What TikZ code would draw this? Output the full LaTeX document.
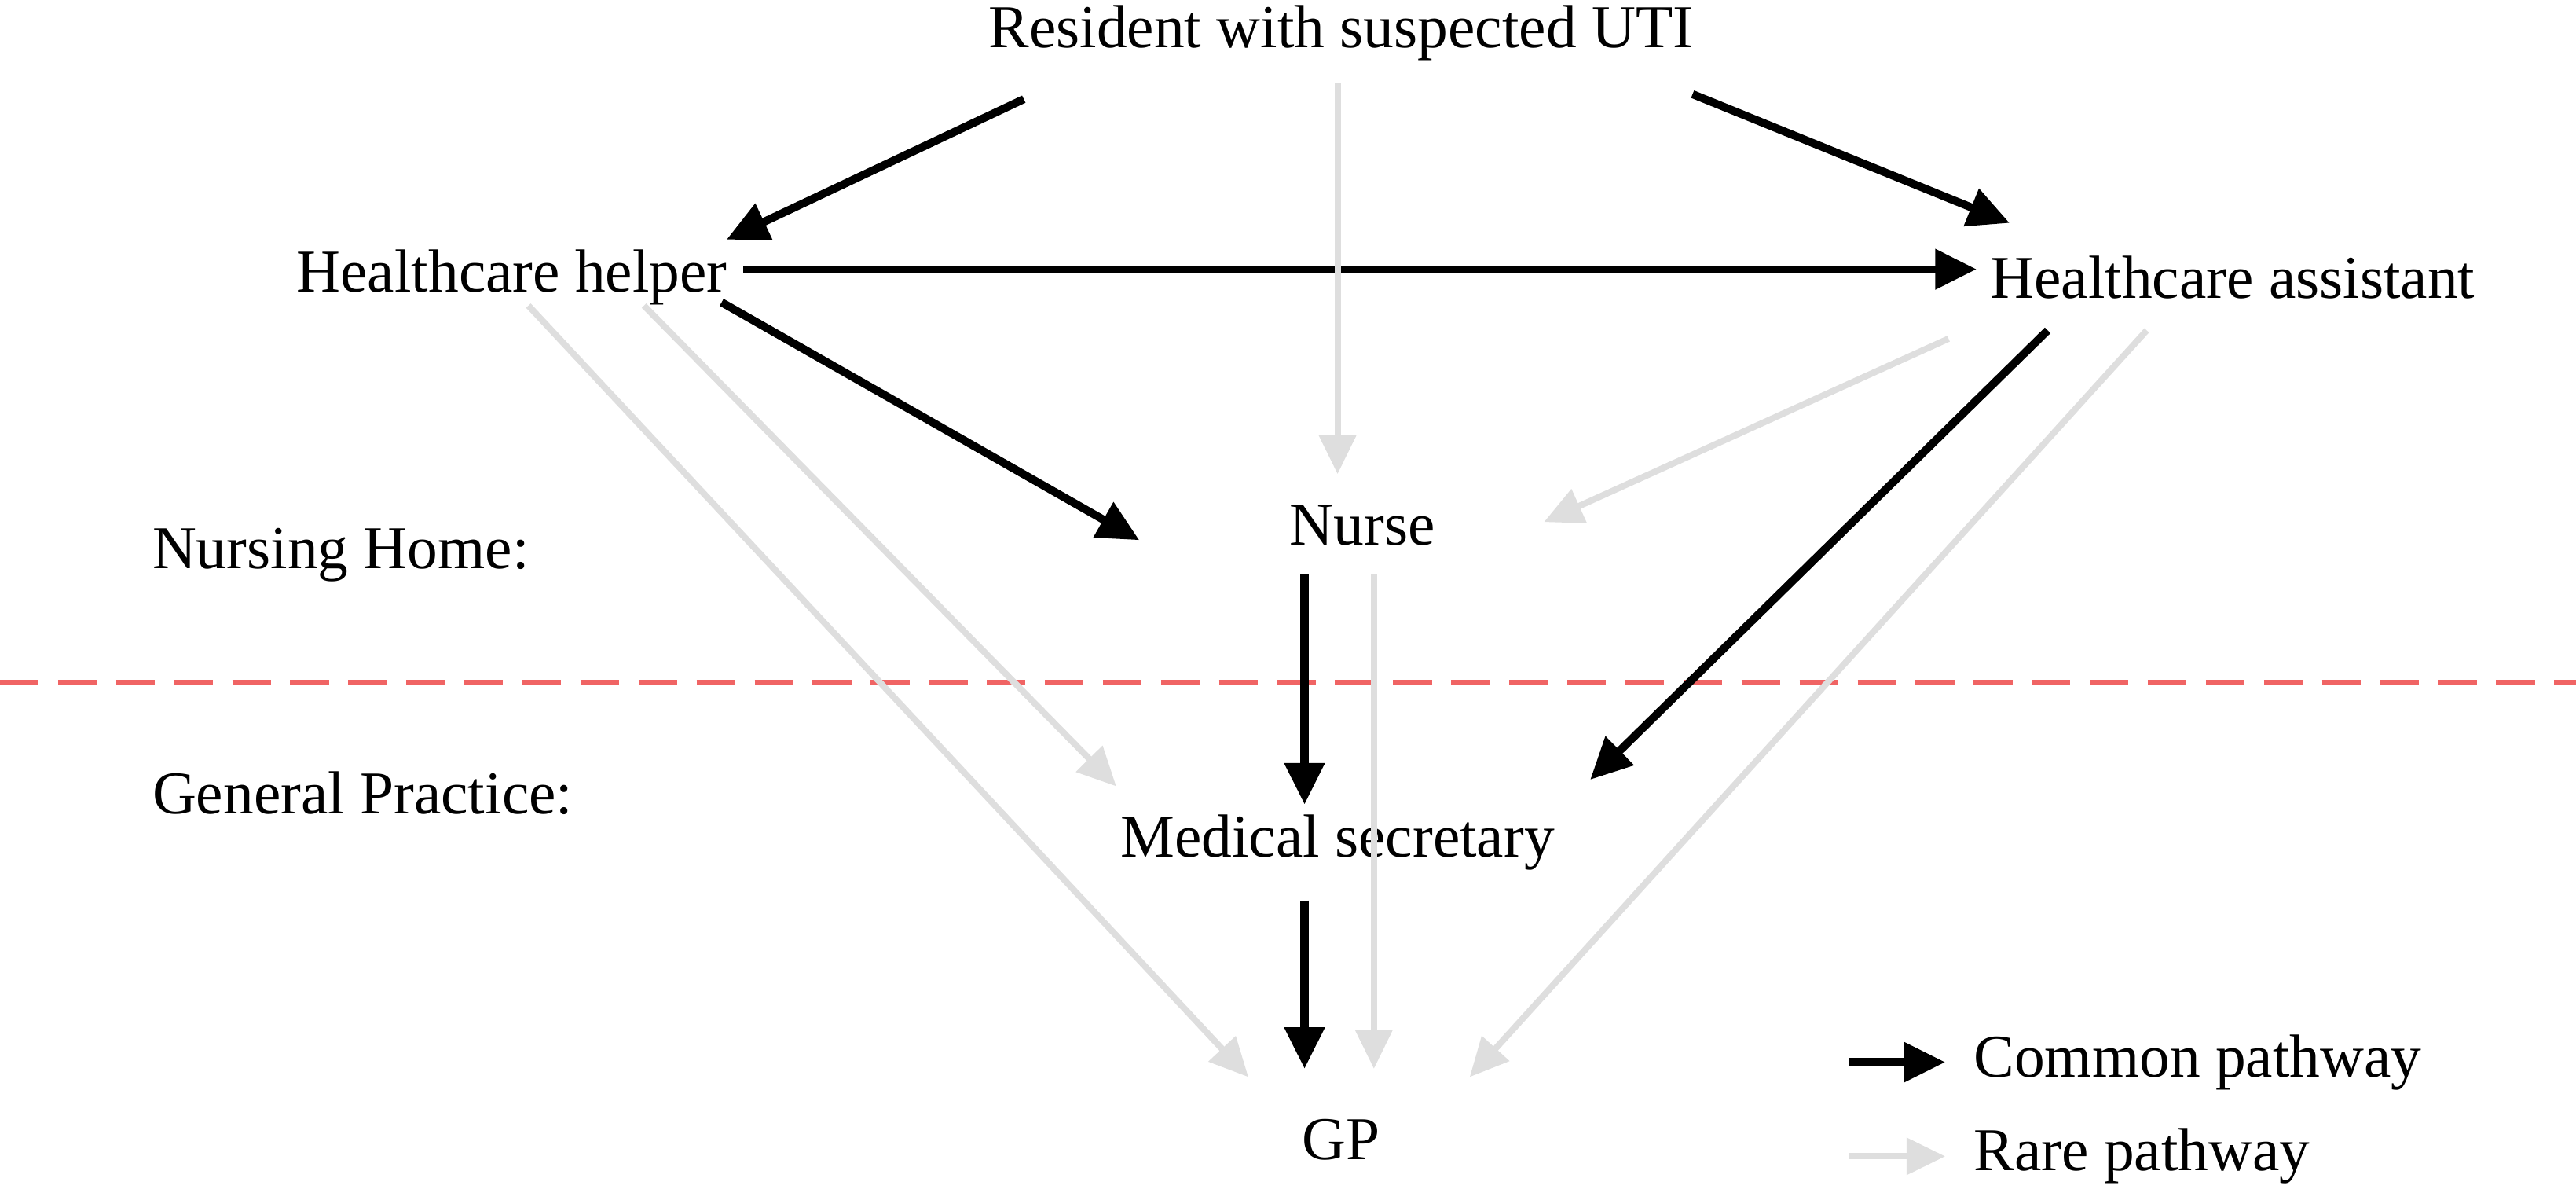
\documentclass[tikz,border=0pt]{standalone}
\usepackage{fontspec}
\setmainfont{Liberation Serif}
\usetikzlibrary{arrows.meta}
\begin{document}
\begin{tikzpicture}[x=0.021cm,y=-0.021cm,
  lbl/.style={font=\fontsize{22}{26}\selectfont,inner sep=0pt},
  common/.style={line width=2.9pt,black,-{Triangle[length=15pt,width=14pt]}},
  rare/.style={line width=2.3pt,black!13,-{Triangle[length=14pt,width=13pt]}}]
\useasboundingbox (0,0) rectangle (1560,722);
\node[lbl] (res) at (812,20) {Resident with suspected UTI};
\node[lbl] (help) at (310,168) {Healthcare helper};
\node[lbl] (asst) at (1352,168) {Healthcare assistant};
\node[lbl] (nurse) at (825,318) {Nurse};
\node[lbl,anchor=west] (nh) at (92,336) {Nursing Home:};
\node[lbl,anchor=west] (gp0) at (92,480) {General Practice:};
\node[lbl] (sec) at (810,510) {Medical secretary};
\node[lbl] (gp) at (812,690) {GP};
\node[lbl,anchor=west] (lc) at (1195,643) {Common pathway};
\node[lbl,anchor=west] (lr) at (1195,700) {Rare pathway};
\coordinate (l1) at (1120,643); \coordinate (l2) at (1178,643);
\coordinate (l3) at (1120,700); \coordinate (l4) at (1178,700);
\draw[dash pattern=on 14pt off 7pt,line width=1.8pt,color={rgb,255:red,240;green,100;blue,100}] (0,413) -- (1560,413);
% black
\draw[common] (620,60) -- (440,145);
\draw[common] (1025,57) -- (1217,135);
\draw[common] (450,163) -- (1197,163);
\draw[common] (437,183) -- (690,327);
\draw[common] (790,348) -- (790,487);
\draw[common] (1240,200) -- (963,472);
\draw[common] (790,545) -- (790,647);
% gray
\draw[rare] (810,50) -- (810,287);
\draw[rare] (1180,205) -- (935,316);
\draw[rare] (320,185) -- (756,652);
\draw[rare] (390,185) -- (676,476);
\draw[rare] (832,348) -- (832,647);
\draw[rare] (1300,200) -- (890,652);
\draw[common] (l1) -- (l2);
\draw[rare] (l3) -- (l4);
\end{tikzpicture}
\end{document}
